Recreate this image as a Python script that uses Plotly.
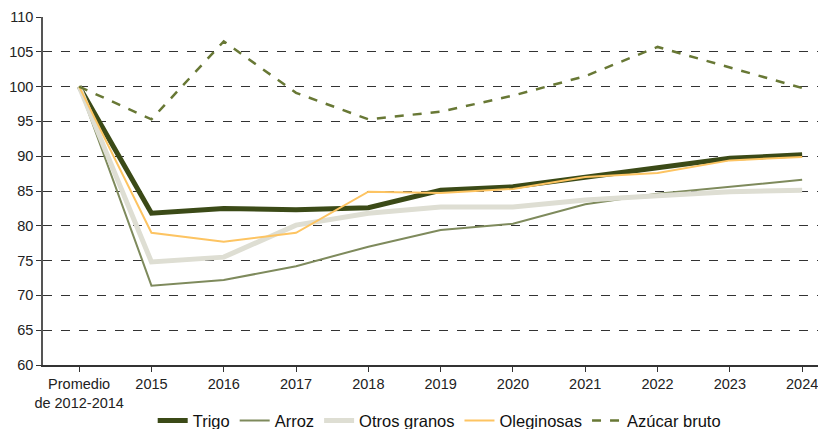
import plotly.graph_objects as go

categories = ["Promedio<br>de 2012-2014", "2015", "2016", "2017", "2018", "2019",
              "2020", "2021", "2022", "2023", "2024"]
trigo = [100, 81.8, 82.5, 82.3, 82.6, 85.1, 85.6, 87.0, 88.3, 89.7, 90.2]
arroz = [100, 71.4, 72.2, 74.2, 77.0, 79.4, 80.3, 83.1, 84.6, 85.6, 86.6]
otros_granos = [100, 74.8, 75.5, 80.1, 81.8, 82.7, 82.7, 83.7, 84.3, 84.9, 85.1]
oleginosas = [100, 79.0, 77.7, 79.0, 84.9, 84.7, 85.3, 87.0, 87.6, 89.4, 89.9]
azucar = [100, 95.3, 106.5, 99.1, 95.3, 96.4, 98.7, 101.5, 105.7, 102.7, 99.8]

x = list(range(len(categories)))

fig = go.Figure()
fig.add_trace(go.Scatter(x=x, y=trigo, mode='lines', name='Trigo',
                         line=dict(color='#3b4a17', width=5)))
fig.add_trace(go.Scatter(x=x, y=arroz, mode='lines', name='Arroz',
                         line=dict(color='#7e8a5c', width=2)))
fig.add_trace(go.Scatter(x=x, y=otros_granos, mode='lines', name='Otros granos',
                         line=dict(color='#deded3', width=5)))
fig.add_trace(go.Scatter(x=x, y=oleginosas, mode='lines', name='Oleginosas',
                         line=dict(color='#fdc462', width=2)))
fig.add_trace(go.Scatter(x=x, y=azucar, mode='lines', name='Azúcar bruto',
                         line=dict(color='#687835', width=2.5, dash='dash')))

# page body adds an 8px margin, so the figure is 8px smaller than the window
fig.update_layout(
    width=818, height=421,
    margin=dict(l=35, r=0, t=9, b=64, autoexpand=False),
    plot_bgcolor='white', paper_bgcolor='white',
    font=dict(family='Liberation Sans, Arial, sans-serif', size=14.5, color='#222222'),
    showlegend=True,
    legend=dict(orientation='h', x=0.506, xanchor='center', xref='paper',
                y=-0.11, yanchor='top', yref='paper',
                font=dict(size=16.5, color='#111111'), traceorder='normal',
                itemwidth=30, tracegroupgap=0),
)
fig.update_xaxes(
    tickmode='array', tickvals=x, ticktext=categories, automargin=False,
    range=[-0.5, 10.33], showgrid=False, zeroline=False,
    showline=True, linecolor='#333333', linewidth=1.5,
    ticks='outside', ticklen=5, tickcolor='#333333',
)
fig.update_yaxes(
    range=[60, 110], dtick=5, showgrid=True, gridcolor='#333333', griddash='dash',
    gridwidth=1, zeroline=False, showline=True, linecolor='#555555', linewidth=1.5,
    ticks='outside', ticklen=5, tickcolor='#333333', automargin=False,
)

fig.write_html("out.html")
